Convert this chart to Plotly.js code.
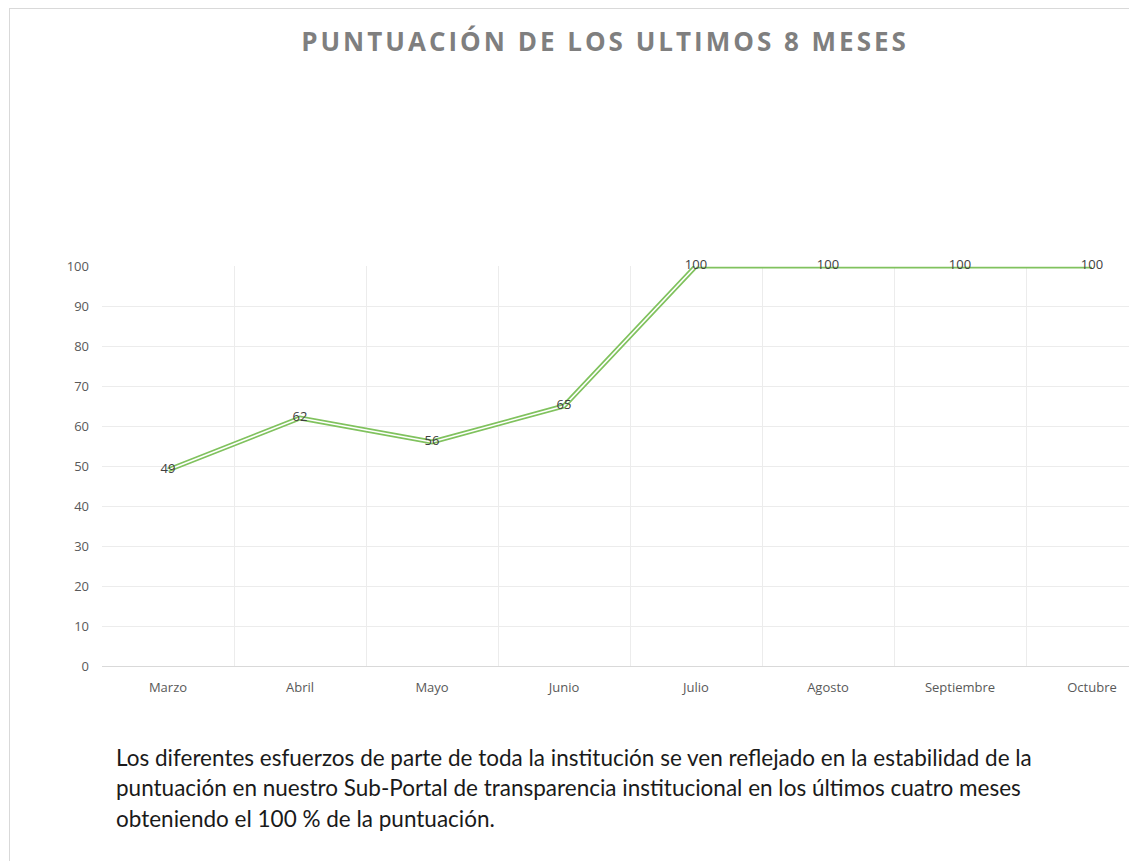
<!DOCTYPE html>
<html>
<head>
<meta charset="utf-8">
<script src="https://cdn.plot.ly/plotly-3.0.1.min.js"></script>
<style>
  html, body { margin: 0; padding: 0; overflow: hidden; background: #fff; width: 1129px; height: 861px; }
  #chart { position: absolute; left: 0; top: 0; width: 1200px; height: 861px; }
  #frame { position: absolute; left: 9px; top: 8px; width: 1400px; height: 1200px; border: 1px solid #d9d9d9; pointer-events: none; }
</style>
</head>
<body>
<div id="chart"></div>
<div id="frame"></div>
<script>
const titleText = "PUNTUACIÓN DE LOS ULTIMOS 8 MESES";
const months = ["Marzo", "Abril", "Mayo", "Junio", "Julio", "Agosto", "Septiembre", "Octubre"];
const scores = [49, 62, 56, 65, 100, 100, 100, 100];
const yTicks = [0, 10, 20, 30, 40, 50, 60, 70, 80, 90, 100];
const noteLines = [
  "Los diferentes esfuerzos de parte de toda la institución se ven reflejado en la estabilidad de la",
  "puntuación en nuestro Sub-Portal de transparencia institucional en los últimos cuatro meses",
  "obteniendo el 100 % de la puntuación."
];

const tickFont = { family: "Open Sans, sans-serif", size: 13, color: "#595959" };

const traces = [
  { x: months, y: scores, type: "scatter", mode: "lines", cliponaxis: false,
    line: { color: "#80c25e", width: 5 }, hoverinfo: "skip", showlegend: false },
  { x: months, y: scores, type: "scatter", mode: "lines", cliponaxis: false,
    line: { color: "#ffffff", width: 1.6 }, hoverinfo: "skip", showlegend: false },
  { x: months, y: scores, type: "scatter", mode: "text", cliponaxis: false,
    text: scores.map(String), textposition: "middle center",
    textfont: { family: "Open Sans, sans-serif", size: 13, color: "#404040" },
    hoverinfo: "skip", showlegend: false }
];

const annotations = noteLines.map((t, i) => ({
  text: t, xref: "paper", yref: "paper",
  x: (114 - 102) / 1056, xanchor: "left",
  y: -(757 + i * 30.5 - 666) / 400, yanchor: "middle",
  showarrow: false, align: "left",
  font: { family: "Lato, sans-serif", size: 22.5, color: "#1a1a1a" }
}));

const layout = {
  width: 1200, height: 861,
  margin: { l: 102, r: 42, t: 266, b: 195, pad: 0 },
  paper_bgcolor: "#ffffff", plot_bgcolor: "#ffffff",
  title: { text: titleText, x: 605 / 1200, xref: "container", xanchor: "center",
           y: 1 - 42 / 861, yref: "container", yanchor: "middle",
           font: { family: "Open Sans, sans-serif", size: 26, weight: 700, color: "#7f7f7f" } },
  xaxis: { type: "category", range: [-0.5, 7.5], tickson: "boundaries",
           showgrid: true, gridcolor: "#ececec", gridwidth: 1,
           showline: true, linecolor: "#d9d9d9", linewidth: 1,
           ticks: "", tickfont: tickFont, ticklabelstandoff: 9, zeroline: false, fixedrange: true },
  yaxis: { range: [0, 100], tickvals: yTicks, ticktext: yTicks.map(String),
           showgrid: true, gridcolor: "#ececec", gridwidth: 1,
           showline: false, zeroline: false, ticks: "", tickfont: tickFont,
           ticklabelstandoff: 12, fixedrange: true },
  annotations: annotations,
  showlegend: false
};

Plotly.newPlot("chart", traces, layout, { displayModeBar: false, staticPlot: true }).then(() => {
  document.querySelectorAll(".gtitle").forEach(el => el.setAttribute("letter-spacing", "3px"));
});
</script>
</body>
</html>
